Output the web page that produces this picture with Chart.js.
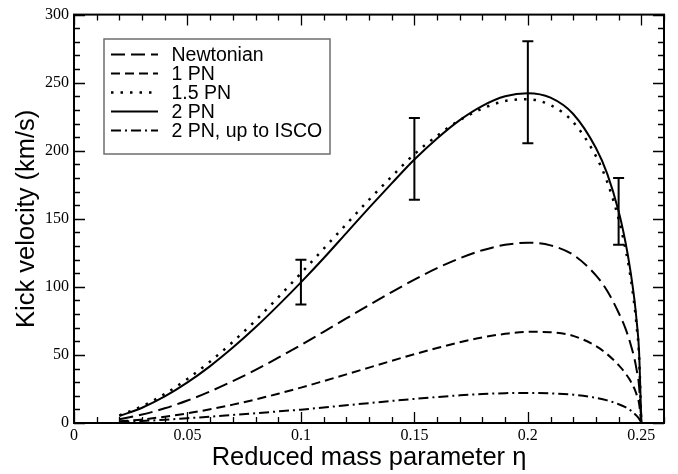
<!DOCTYPE html>
<html><head><meta charset="utf-8">
<script src="https://cdn.jsdelivr.net/npm/chart.js@4.4.1/dist/chart.umd.min.js"></script>
<style>html,body{margin:0;padding:0;background:#fff;}#wrap{width:678px;height:474px;}</style>
</head><body><div id="wrap"><canvas id="c" width="678" height="474"></canvas></div>
<script>
const eta = [0.02,0.03,0.04,0.05,0.06,0.07,0.08,0.09,0.10,0.11,0.12,0.13,0.14,0.15,0.16,0.17,0.18,0.19,0.20,0.21,0.22,0.23,0.235,0.24,0.243,0.245,0.247,0.248,0.249,0.25];
const newtonian = [2.8,6.2,10.8,16.5,23.2,30.8,39.0,48.0,57.3,67.0,76.8,86.6,96.2,105.3,113.7,121.0,126.9,130.9,132.4,130.5,123.5,108.5,97,81,69.5,59.5,47,38.5,27.5,0];
const pn1 = [1.2,2.6,4.6,7.1,10.1,13.5,17.3,21.5,26.0,30.8,35.7,40.7,45.7,50.5,55.1,59.3,62.9,65.5,67.0,66.7,64.0,56.5,50.5,42.5,36.5,31.5,25,20.5,14.5,0];
const pn15 = [5.6,12.3,21.3,32.4,45.2,59.6,75.3,92.3,110,128,146,164,181,197.5,211,222.5,231,236.5,237.8,233.5,221,196,177,150,128,110,86,70,50,0];
const pn2 = [5.1,11.2,19.5,29.8,41.8,55.4,70.3,86.4,103.3,121,139.5,158,176,193.5,209,222.5,233,240,242.3,239,227,202,183,155.5,133,114,90,74,53,0];
const pn2isco = [0.8,1.5,2.4,3.5,4.6,5.9,7.2,8.5,9.8,11.4,13.0,14.6,16.2,17.7,19.1,20.3,21.3,21.9,22.1,21.8,20.8,18.5,16.6,13.8,11.6,9.6,6.8,5.2,3.2,0];
const seriesLabels = ["Newtonian","1 PN","1.5 PN","2 PN","2 PN, up to ISCO"];
const errEta = [0.1,0.15,0.2,0.24];
const errLow = [87,164,205.5,131];
const errHigh = [120,224,280.5,180];
const xTicks = [0,0.05,0.1,0.15,0.2,0.25];
const yTicks = [0,50,100,150,200,250,300];
const xMinorStep = 0.01, yMinorStep = 10;

const mk = (arr) => eta.map((e,i)=>({x:e,y:arr[i]}));
const styles = [
  {borderDash:[14,6], w:2},
  {borderDash:[9,5], w:2},
  {borderDash:[2.5,7], w:2.5},
  {borderDash:[], w:2},
  {borderDash:[10,4,2,4], w:2}
];
const allSeries = [newtonian,pn1,pn15,pn2,pn2isco];
const datasets = allSeries.map((arr,i)=>({
  label: seriesLabels[i],
  data: mk(arr),
  borderColor:'#000',
  backgroundColor:'#000',
  borderWidth:styles[i].w,
  borderDash:styles[i].borderDash,
  pointRadius:0,
  cubicInterpolationMode:'monotone',
  fill:false
}));

const framePlugin = {
  id:'frame',
  afterDatasetsDraw(chart){
    const ctx = chart.ctx, a = chart.chartArea, xs = chart.scales.x, ys = chart.scales.y;
    ctx.save();
    ctx.strokeStyle='#000'; ctx.lineWidth=2; ctx.setLineDash([]);
    errEta.forEach((e,i)=>{
      const px = xs.getPixelForValue(e), p1 = ys.getPixelForValue(errLow[i]), p2 = ys.getPixelForValue(errHigh[i]);
      ctx.beginPath();
      ctx.moveTo(px,p1); ctx.lineTo(px,p2);
      ctx.moveTo(px-5.5,p1); ctx.lineTo(px+5.5,p1);
      ctx.moveTo(px-5.5,p2); ctx.lineTo(px+5.5,p2);
      ctx.stroke();
    });
    ctx.lineWidth=1.3;
    const drawX = (v,len)=>{const px=Math.round(xs.getPixelForValue(v))+0.5;ctx.beginPath();ctx.moveTo(px,a.bottom);ctx.lineTo(px,a.bottom-len);ctx.moveTo(px,a.top);ctx.lineTo(px,a.top+len);ctx.stroke();};
    const drawY = (v,len)=>{const py=Math.round(ys.getPixelForValue(v))+0.5;ctx.beginPath();ctx.moveTo(a.left,py);ctx.lineTo(a.left+len,py);ctx.moveTo(a.right,py);ctx.lineTo(a.right-len,py);ctx.stroke();};
    for(let k=0;k*xMinorStep<=xs.max+1e-9;k++){const v=k*xMinorStep; if(xTicks.some(t=>Math.abs(t-v)<1e-9)) continue; drawX(v,6);}
    xTicks.forEach(v=>drawX(v,11));
    for(let v=0;v<=ys.max;v+=yMinorStep){ if(yTicks.includes(v)) continue; drawY(v,6);}
    yTicks.forEach(v=>drawY(v,11));
    ctx.lineWidth=2;
    ctx.strokeRect(a.left,a.top,a.right-a.left,a.bottom-a.top);
    ctx.restore();
  },
  afterDraw(chart){
    const ctx = chart.ctx;
    ctx.save();
    const bx=104, by=39, bw=226, bh=115;
    ctx.fillStyle='#fff'; ctx.fillRect(bx,by,bw,bh);
    ctx.strokeStyle='#6e6e6e'; ctx.lineWidth=1.5; ctx.setLineDash([]);
    ctx.strokeRect(bx,by,bw,bh);
    chart.data.datasets.forEach((ds,i)=>{
      const y = 54.5 + i*19;
      ctx.strokeStyle='#000'; ctx.lineWidth=ds.borderWidth; ctx.setLineDash(ds.borderDash||[]);
      ctx.beginPath(); ctx.moveTo(111,y); ctx.lineTo(158,y); ctx.stroke();
      ctx.setLineDash([]);
      ctx.fillStyle='#000'; ctx.font='19.5px "Liberation Sans", Arial, sans-serif';
      ctx.textBaseline='middle'; ctx.textAlign='left';
      ctx.fillText(ds.label,171.5,y+1);
    });
    ctx.restore();
  }
};

new Chart(document.getElementById('c'),{
  type:'line',
  data:{datasets},
  plugins:[framePlugin],
  options:{
    responsive:false, animation:false, devicePixelRatio:1,
    layout:{padding:{top:10,right:14,left:0,bottom:0}},
    plugins:{legend:{display:false},tooltip:{enabled:false}},
    scales:{
      x:{type:'linear',min:0,max:0.26,
        afterBuildTicks(s){s.ticks=xTicks.map(v=>({value:v}));},
        afterFit(s){s.height=51;},
        grid:{display:false,drawTicks:false},
        border:{display:false},
        ticks:{color:'#000',padding:3,maxRotation:0,autoSkip:false,font:{family:'"Liberation Serif", serif',size:16},
          callback:(v)=>String(v)},
        title:{display:true,text:'Reduced mass parameter η',color:'#000',font:{family:'"Liberation Sans", Arial, sans-serif',size:25.5},padding:{top:0,bottom:1}}
      },
      y:{type:'linear',min:0,max:300,
        afterBuildTicks(s){s.ticks=yTicks.map(v=>({value:v}));},
        afterFit(s){s.width=74;},
        grid:{display:false,drawTicks:false},
        border:{display:false},
        ticks:{color:'#000',padding:5,autoSkip:false,font:{family:'"Liberation Serif", serif',size:16},
          callback:(v)=>String(v)},
        title:{display:true,text:'Kick velocity (km/s)',color:'#000',font:{family:'"Liberation Sans", Arial, sans-serif',size:25.5},padding:{top:12,bottom:0}}
      }
    }
  }
});
</script></body></html>
